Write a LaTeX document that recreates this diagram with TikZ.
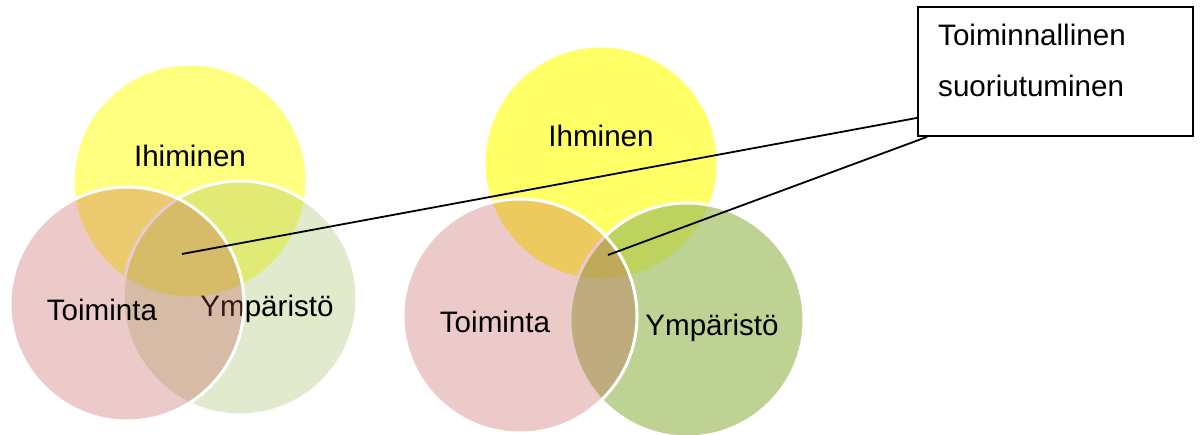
\documentclass[tikz,border=0pt]{standalone}
\usepackage{fontspec}
\setmainfont{Liberation Sans}
\usetikzlibrary{calc}
\definecolor{vyellow}{HTML}{FFFF00}
\definecolor{vgreen}{HTML}{9BBB59}
\definecolor{vred}{HTML}{C0504D}
\tikzset{
  venn/.style={circle, minimum size=234pt, inner sep=0pt, draw=white, line width=3pt},
  lbl/.style={anchor=base, inner sep=0pt, font=\fontsize{29.6}{35}\selectfont},
  conn/.style={draw=black, line width=1.8pt},
}
\begin{document}
\begin{tikzpicture}[x=1pt,y=-1pt]
\useasboundingbox (0,0) rectangle (1200,435);
% ---- left diagram ----
\node[venn, fill=vyellow, fill opacity=0.5] (ly) at (190,181) {};
\node[lbl] (lyt) at (190,167) {Ihiminen};
\node[venn, fill=vgreen, fill opacity=0.3] (lg) at (240,298) {};
\node[lbl] (lgt) at (267,317) {Ympäristö};
\node[venn, fill=vred, fill opacity=0.3] (lp) at (127,304) {};
\node[lbl] (lpt) at (102,321) {Toiminta};
% ---- right diagram ----
\node[venn, fill=vyellow, fill opacity=0.6] (ry) at (601,163) {};
\node[lbl] (ryt) at (601,147) {Ihminen};
\node[venn, fill=vgreen, fill opacity=0.65] (rg) at (687,320) {};
\node[lbl] (rgt) at (712,336) {Ympäristö};
\node[venn, fill=vred, fill opacity=0.3] (rp) at (520,316) {};
\node[lbl] (rpt) at (495,333) {Toiminta};
% ---- callout box ----
\node[draw=black, line width=1.8pt, fill=white, minimum width=275pt, minimum height=129pt, inner sep=0pt] (box) at (1055.5,71.5) {};
\node[lbl, anchor=base west] (bt1) at (938,46) {Toiminnallinen};
\node[lbl, anchor=base west] (bt2) at (938,97) {suoriutuminen};
% ---- connectors ----
\coordinate (la) at (182,254);
\coordinate (ra) at (608,255);
\draw[conn] (la) -- ($(box.south west)+(0,-19)$);
\draw[conn] (ra) -- ($(box.south west)+(10,0)$);
\end{tikzpicture}
\end{document}
